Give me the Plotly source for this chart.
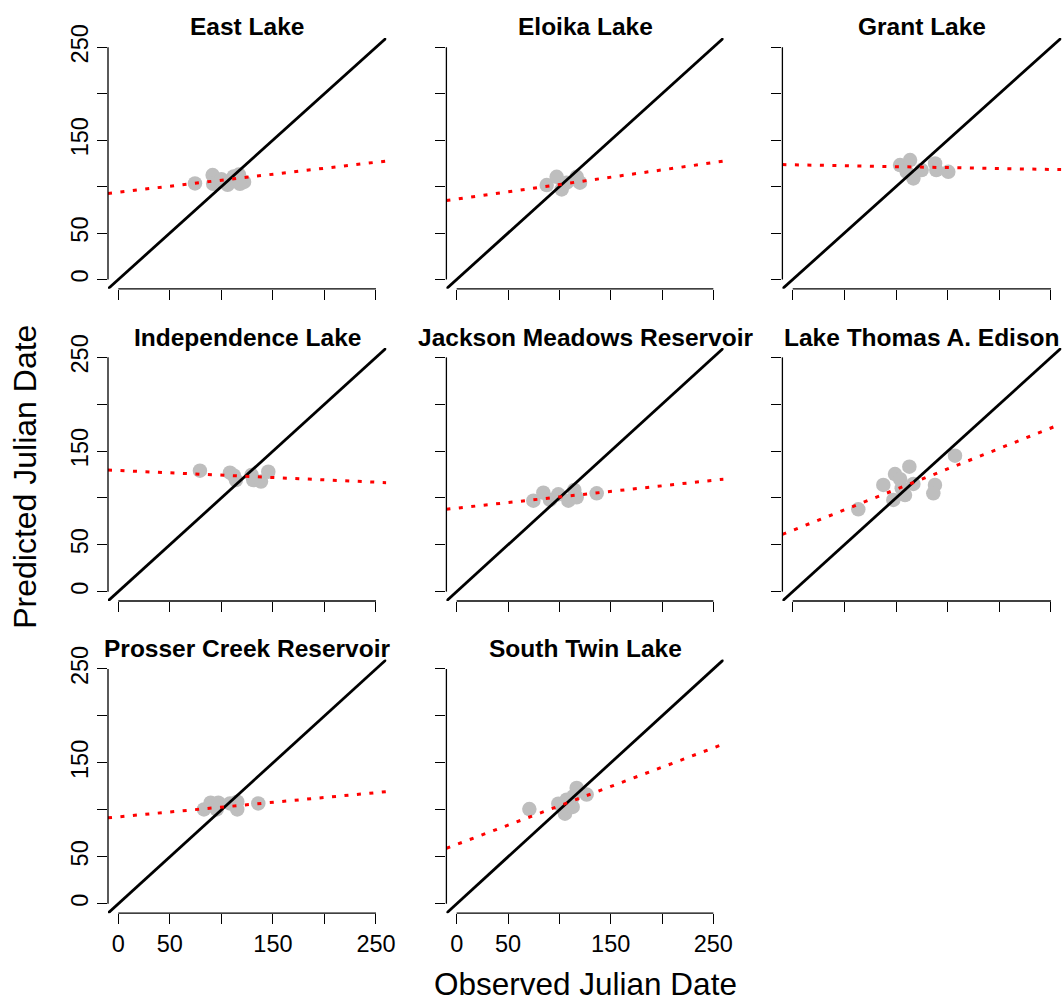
import plotly.graph_objects as go

# ---------------- data ----------------
lakes = ["East Lake", "Eloika Lake", "Grant Lake", "Independence Lake",
         "Jackson Meadows Reservoir", "Lake Thomas A. Edison",
         "Prosser Creek Reservoir", "South Twin Lake"]

obs_east = [74.4, 91.5, 92.0, 100.0, 106.0, 112.0, 117.0, 122.0, 118.0]
pred_east = [103.4, 112.5, 103.0, 108.0, 102.0, 111.0, 113.0, 105.0, 103.0]

obs_eloika = [87.7, 97.4, 102.3, 107.1, 116.9, 120.1]
pred_eloika = [101.7, 110.6, 97.0, 104.2, 110.6, 104.2]

obs_grant = [103.9, 113.6, 116.8, 124.8, 137.8, 139.0, 150.6, 110.3]
pred_grant = [123.2, 128.6, 108.8, 117.8, 125.0, 117.8, 116.0, 116.0]

obs_indep = [79.2, 108.3, 114.1, 112.0, 129.3, 130.9, 138.4, 145.5]
pred_indep = [129.1, 127.0, 119.1, 124.0, 124.5, 119.1, 117.4, 128.0]

obs_jackson = [74.7, 84.4, 90.9, 99.0, 108.8, 114.6, 116.9, 136.4]
pred_jackson = [97.1, 105.6, 97.8, 103.8, 97.1, 108.5, 100.6, 104.9]

obs_thomas = [63.5, 87.7, 99.0, 112.9, 105.5, 97.4, 108.7, 116.8, 137.7, 136.1, 157.1, 104.0]
pred_thomas = [87.8, 113.8, 125.5, 133.4, 110.2, 97.8, 103.1, 114.9, 113.8, 104.9, 145.1, 120.0]

obs_prosser = [83.1, 89.6, 97.0, 95.4, 108.3, 115.4, 115.4, 135.8]
pred_prosser = [100.5, 107.6, 107.6, 100.5, 106.9, 100.5, 108.7, 106.9]

obs_twin = [70.8, 99.0, 105.5, 113.0, 116.9, 113.6, 126.6, 107.1]
pred_twin = [100.9, 106.6, 95.9, 103.1, 123.4, 114.5, 116.3, 110.9]

observed = [obs_east, obs_eloika, obs_grant, obs_indep, obs_jackson,
            obs_thomas, obs_prosser, obs_twin]
predicted = [pred_east, pred_eloika, pred_grant, pred_indep, pred_jackson,
             pred_thomas, pred_prosser, pred_twin]

# fitted (red dotted) line: intercept and slope per lake
fit_intercept = [94.0, 86.6, 123.5, 129.3, 89.1, 65.4, 92.6, 63.2]
fit_slope = [0.129, 0.157, -0.020, -0.050, 0.119, 0.437, 0.103, 0.411]

tick_vals = [0, 50, 100, 150, 200, 250]
tick_text = ["0", "50", "", "150", "", "250"]
axis_range = [-10, 260]

# ---------------- layout geometry (pixels) ----------------
W, H = 1063, 1002
col_left = [108.0, 446.4, 782.4]
col_right = [386.3, 723.6, 1061.3]
row_top = [38.0, 348.0, 659.6]
row_bottom = [288.8, 601.0, 913.2]
title_center = [26.5, 337.0, 648.0]

FONT = "Liberation Sans, Arial, sans-serif"

fig = go.Figure()
layout = dict(
    width=W, height=H, margin=dict(l=0, r=0, t=0, b=0, pad=0),
    paper_bgcolor="white", plot_bgcolor="white", showlegend=False,
    font=dict(family=FONT, color="black"),
)
shapes = []
annotations = []

for i, lake in enumerate(lakes):
    r, c = divmod(i, 3)
    xn = "x" if i == 0 else f"x{i+1}"
    yn = "y" if i == 0 else f"y{i+1}"
    xk = "xaxis" if i == 0 else f"xaxis{i+1}"
    yk = "yaxis" if i == 0 else f"yaxis{i+1}"

    layout[xk] = dict(
        domain=[col_left[c] / W, col_right[c] / W], anchor=yn,
        range=axis_range, showgrid=False, zeroline=False, showline=False,
        ticks="outside", ticklen=10, tickwidth=1.3, tickcolor="black",
        tickvals=tick_vals, ticktext=tick_text, automargin=False,
        showticklabels=(r == 2),
        tickfont=dict(size=23.5, family=FONT, color="black"),
    )
    layout[yk] = dict(
        domain=[1 - row_bottom[r] / H, 1 - row_top[r] / H], anchor=xn,
        range=axis_range, showgrid=False, zeroline=False, showline=False,
        ticks="outside", ticklen=10, tickwidth=1.3, tickcolor="black",
        tickvals=tick_vals, ticktext=tick_text, automargin=False,
        showticklabels=(c == 0), tickangle=-90,
        tickfont=dict(size=23.5, family=FONT, color="black"),
    )

    # axis lines spanning first to last tick (R style)
    shapes.append(dict(type="line", xref=xn, yref=f"{yn} domain",
                       x0=tick_vals[0], x1=tick_vals[-1], y0=0, y1=0,
                       line=dict(color="black", width=1.3)))
    shapes.append(dict(type="line", xref=f"{xn} domain", yref=yn,
                       x0=0, x1=0, y0=tick_vals[0], y1=tick_vals[-1],
                       line=dict(color="black", width=1.3)))

    # points
    fig.add_trace(go.Scatter(
        x=observed[i], y=predicted[i], mode="markers", xaxis=xn, yaxis=yn,
        marker=dict(size=14.5, color="#BEBEBE", line=dict(width=0)),
        hoverinfo="skip"))
    # 1:1 line
    fig.add_trace(go.Scatter(
        x=axis_range, y=axis_range, mode="lines", xaxis=xn, yaxis=yn,
        line=dict(color="black", width=2.8), hoverinfo="skip"))
    # fitted line
    fx = axis_range
    fy = [fit_intercept[i] + fit_slope[i] * v for v in fx]
    fig.add_trace(go.Scatter(
        x=fx, y=fy, mode="lines", xaxis=xn, yaxis=yn,
        line=dict(color="#FF0000", width=3, dash="4px,8.5px"),
        hoverinfo="skip"))

    annotations.append(dict(
        text=f"<b>{lake}</b>", xref="paper", yref="paper",
        x=(col_left[c] + col_right[c]) / 2 / W, y=1 - title_center[r] / H,
        xanchor="center", yanchor="middle", showarrow=False,
        font=dict(size=24.5, family=FONT, color="black")))

annotations.append(dict(
    text="Observed Julian Date", xref="paper", yref="paper",
    x=585.5 / W, y=1 - 984.0 / H, xanchor="center", yanchor="middle",
    showarrow=False, font=dict(size=31.5, family=FONT, color="black")))
annotations.append(dict(
    text="Predicted Julian Date", xref="paper", yref="paper",
    x=25.3 / W, y=1 - 476.5 / H, xanchor="center", yanchor="middle",
    textangle=-90, showarrow=False,
    font=dict(size=32, family=FONT, color="black")))

layout["shapes"] = shapes
layout["annotations"] = annotations
fig.update_layout(**layout)
fig.write_html(
    "out.html",
    config={"displayModeBar": False},
    post_script="document.body.style.margin='0px';"
                "document.documentElement.style.overflow='hidden';",
)
